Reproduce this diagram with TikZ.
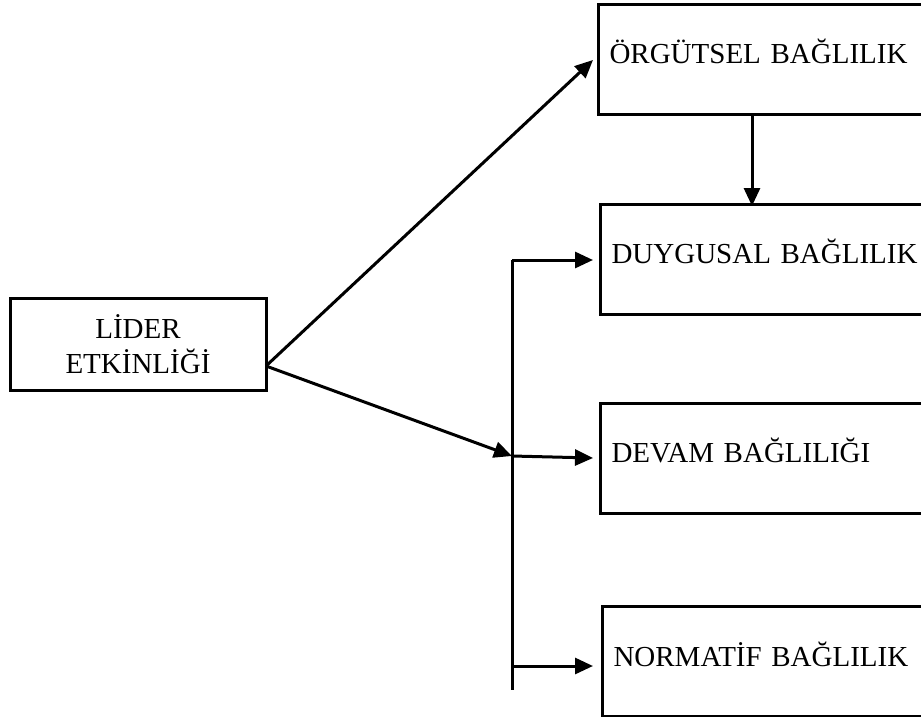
\documentclass[tikz,border=0pt]{standalone}
\usepackage{fontspec}
\setmainfont{Liberation Serif}
\usetikzlibrary{arrows.meta,calc}

\tikzset{
    kutu/.style={draw, line width=3pt, anchor=north west, minimum height=110pt,
        text width=307pt, inner xsep=11pt, text depth=17pt, align=left},
    ok/.style={line width=3pt, -{Triangle[length=18pt,width=16pt]}}
}

\begin{document}
\begin{tikzpicture}[x=1pt, y=-1pt, font=\fontsize{29}{35}\selectfont]
    \useasboundingbox (0,0) rectangle (921,717);
    % Lider
    \node[draw, line width=3pt, minimum width=256pt, minimum height=92pt, align=center] (lider) at (138,344) {LİDER\\ETKİNLİĞİ};
    % Kutular rechts
    \node[kutu] (orgutsel) at (597,3) {ÖRGÜTSEL BAĞLILIK};
    \node[kutu] (duygusal) at (599,203) {DUYGUSAL BAĞLILIK};
    \node[kutu] (devam) at (599,402) {DEVAM BAĞLILIĞI};
    \node[kutu, text depth=14pt] (normatif) at (601,605) {NORMATİF BAĞLILIK};
    % Verteiler
    \coordinate (cikis) at (266,366);
    \coordinate (bustop) at (512,260);
    \coordinate (busmid) at (512,456);
    \coordinate (busbot) at (512,690);
    \draw[line width=3pt] (bustop) -- (busbot);
    % Pfeile
    \draw[ok] (cikis) -- ($(orgutsel.north west)+(-4,57)$);
    \draw[ok] (cikis) -- (busmid);
    \draw[ok] (bustop) -- ($(duygusal.west |- bustop)+(-6,0)$);
    \draw[ok] (busmid) -- ($(devam.west |- busmid)+(-6,2)$);
    \draw[ok] ($(busbot)+(0,-24)$) -- ($(normatif.west |- busbot)+(-8,-24)$);
    \draw[ok] ($(orgutsel.south west)+(155,0)$) -- ($(orgutsel.south west)+(155,90)$);
\end{tikzpicture}
\end{document}
